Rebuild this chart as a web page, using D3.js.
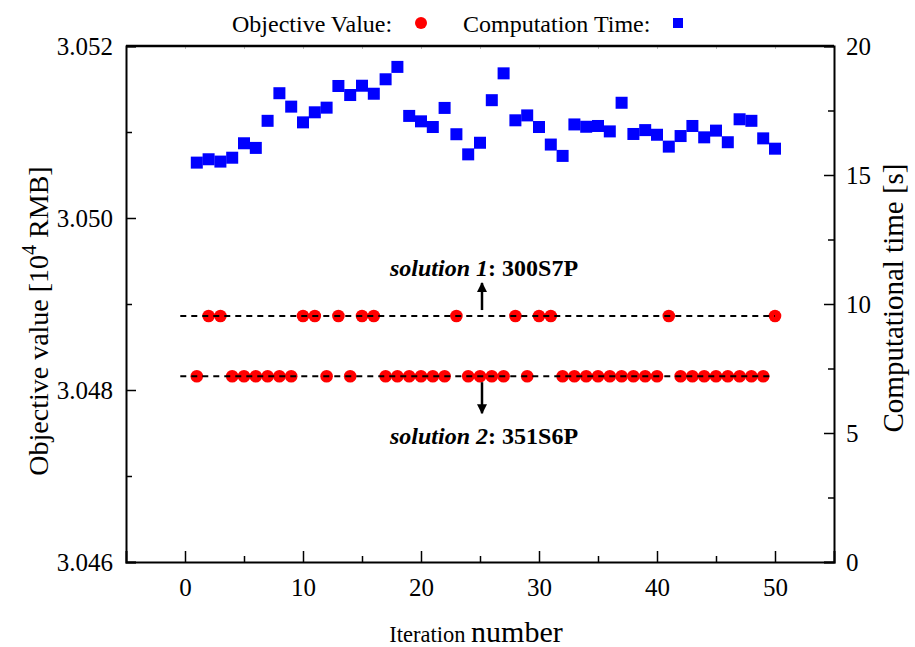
<!DOCTYPE html>
<html lang="en">
<head>
<meta charset="utf-8">
<script src="https://d3js.org/d3.v7.min.js"></script>
<style>
  body { margin: 0; background: #fff; }
  text { font-family: "Liberation Serif", "Times New Roman", serif; }
</style>
</head>
<body>
<div id="chart"></div>
<script>
// iterations and computation time per iteration [s]
var iterations = d3.range(1, 51);
var compTime = [15.48, 15.61, 15.52, 15.67, 16.23, 16.05, 17.10, 18.17, 17.65, 17.04,
                17.43, 17.61, 18.45, 18.10, 18.46, 18.15, 18.71, 19.19, 17.29, 17.08,
                16.86, 17.60, 16.58, 15.80, 16.25, 17.90, 18.94, 17.12, 17.31, 16.86,
                16.18, 15.74, 16.96, 16.87, 16.90, 16.69, 17.80, 16.59, 16.74, 16.56,
                16.10, 16.51, 16.90, 16.46, 16.72, 16.27, 17.16, 17.10, 16.42, 16.02];
// which solution each iteration found (1 = 300S7P, 2 = 351S6P)
var solutionId = [2, 1, 1, 2, 2, 2, 2, 2, 2, 1,
                  1, 2, 1, 2, 1, 1, 2, 2, 2, 2,
                  2, 2, 1, 2, 2, 2, 2, 1, 2, 1,
                  1, 2, 2, 2, 2, 2, 2, 2, 2, 2,
                  1, 2, 2, 2, 2, 2, 2, 2, 2, 1];
var solutionValue = [3.04886, 3.04816];   // objective value [10^4 RMB]
var solutionName = ["300S7P", "351S6P"];

var xTicks = [0, 10, 20, 30, 40, 50];
var yLeftTicks = [3.046, 3.048, 3.050, 3.052];
var yRightTicks = [0, 5, 10, 15, 20];

var width = 915, height = 647;
var margin = {left: 126, right: 81, top: 46, bottom: 85};
var W = width - margin.left - margin.right;
var H = height - margin.top - margin.bottom;

var svg = d3.select("#chart").append("svg")
    .attr("width", width).attr("height", height);
var g = svg.append("g").attr("transform", "translate(" + margin.left + "," + margin.top + ")");

var x = d3.scaleLinear().domain([-5, 55]).range([0, W]);
var yL = d3.scaleLinear().domain([3.046, 3.052]).range([H, 0]);
var yR = d3.scaleLinear().domain([0, 20]).range([H, 0]);

// top faint ticks
g.append("g")
    .call(d3.axisTop(x).tickValues(d3.range(0, 55, 5)).tickSize(-3).tickFormat(""))
    .call(function (a) { a.select(".domain").remove(); a.selectAll("line").attr("stroke", "#bbb"); });

// minor ticks
g.append("g").attr("transform", "translate(0," + H + ")")
    .call(d3.axisBottom(x).tickValues([5, 15, 25, 35, 45]).tickSize(-6).tickFormat(""))
    .call(function (a) { a.select(".domain").remove(); a.selectAll("line").attr("stroke-width", 1.5); });
g.append("g")
    .call(d3.axisLeft(yL).tickValues([3.047, 3.049, 3.051]).tickSize(-6).tickFormat(""))
    .call(function (a) { a.select(".domain").remove(); a.selectAll("line").attr("stroke-width", 1.5); });
g.append("g").attr("transform", "translate(" + W + ",0)")
    .call(d3.axisRight(yR).tickValues([2.5, 7.5, 12.5, 17.5]).tickSize(-6).tickFormat(""))
    .call(function (a) { a.select(".domain").remove(); a.selectAll("line").attr("stroke-width", 1.5); });

// major axes
var xAxis = g.append("g").attr("transform", "translate(0," + H + ")")
    .call(d3.axisBottom(x).tickValues(xTicks).tickSize(-11).tickPadding(15).tickFormat(d3.format("d")));
var yAxisL = g.append("g")
    .call(d3.axisLeft(yL).tickValues(yLeftTicks).tickSize(-10).tickPadding(13).tickFormat(d3.format(".3f")));
var yAxisR = g.append("g").attr("transform", "translate(" + W + ",0)")
    .call(d3.axisRight(yR).tickValues(yRightTicks).tickSize(-10).tickPadding(12).tickFormat(d3.format("d")));
[xAxis, yAxisL, yAxisR].forEach(function (a) {
    a.attr("font-family", null);
    a.select(".domain").attr("stroke-width", 2);
    a.selectAll(".tick line").attr("stroke-width", 1.5);
    a.selectAll("text").style("font-size", "25px").attr("fill", "#000");
});
yAxisL.selectAll("text").attr("dy", "0.35em");
yAxisR.selectAll("text").attr("dy", "0.35em");
xAxis.selectAll("text").attr("dy", "0.75em");

// top frame line
g.append("line").attr("x1", 0).attr("x2", W).attr("y1", 0).attr("y2", 0)
    .attr("stroke", "#000").attr("stroke-width", 2.5);

// computation time squares
var sq = 12;
g.selectAll(".sq").data(compTime).enter().append("rect")
    .attr("x", function (d, i) { return x(iterations[i]) - sq / 2; })
    .attr("y", function (d) { return yR(d) - sq / 2; })
    .attr("width", sq).attr("height", sq)
    .attr("fill", "#0000ff");

// objective value circles
g.selectAll(".dot").data(solutionId).enter().append("circle")
    .attr("cx", function (d, i) { return x(iterations[i]); })
    .attr("cy", function (d) { return yL(solutionValue[d - 1]); })
    .attr("r", 6.3)
    .attr("fill", "#ff0000");

// dashed solution lines (drawn over dots)
solutionValue.forEach(function (v, k) {
    g.append("line")
        .attr("x1", x(-0.4)).attr("x2", x(k == 0 ? 50 : 49.6))
        .attr("y1", yL(v)).attr("y2", yL(v))
        .attr("stroke", "#000").attr("stroke-width", 2)
        .attr("stroke-dasharray", "6,5");
});

// arrows + annotation labels
var defs = svg.append("defs");
defs.append("marker").attr("id", "arr")
    .attr("viewBox", "0 0 10 10").attr("refX", 9).attr("refY", 5)
    .attr("markerWidth", 4).attr("markerHeight", 5).attr("orient", "auto")
    .append("path").attr("d", "M0,0 L10,5 L0,10 z").attr("fill", "#000");

var ax = x(25) + 2;
g.append("line").attr("x1", ax).attr("x2", ax)
    .attr("y1", yL(solutionValue[0]) - 6).attr("y2", yL(solutionValue[0]) - 33)
    .attr("stroke", "#000").attr("stroke-width", 2.5).attr("marker-end", "url(#arr)");
g.append("line").attr("x1", ax).attr("x2", ax)
    .attr("y1", yL(solutionValue[1]) + 6).attr("y2", yL(solutionValue[1]) + 37)
    .attr("stroke", "#000").attr("stroke-width", 2.5).attr("marker-end", "url(#arr)");

function annot(k, yy) {
    var t = g.append("text").attr("x", x(25) - 90).attr("y", yy)
        .style("font-size", "24px").style("font-weight", "bold");
    t.append("tspan").style("font-style", "italic").text("solution " + (k + 1));
    t.append("tspan").text(": " + solutionName[k]);
}
annot(0, yL(solutionValue[0]) - 40);
annot(1, yL(solutionValue[1]) + 68);

// axis titles
svg.append("text")
    .attr("transform", "translate(48," + (margin.top + H / 2 + 17) + ") rotate(-90)")
    .attr("text-anchor", "middle").style("font-size", "28px")
    .html("Objective value [10<tspan dy='-12' font-size='20px'>4</tspan><tspan dy='12'> RMB]</tspan>");
svg.append("text")
    .attr("transform", "translate(903," + (margin.top + H / 2 - 6) + ") rotate(-90)")
    .attr("text-anchor", "middle").style("font-size", "29px")
    .text("Computational time [s]");
var xt = svg.append("text").attr("x", margin.left + x(25) - 4).attr("y", 642)
    .attr("text-anchor", "middle");
xt.append("tspan").style("font-size", "22.5px").text("Iteration ");
xt.append("tspan").style("font-size", "30px").text("number");

// legend
var lg = svg.append("g");
lg.append("text").attr("x", 232).attr("y", 32).style("font-size", "24px").text("Objective Value:");
lg.append("circle").attr("cx", 421).attr("cy", 23).attr("r", 6).attr("fill", "#ff0000");
lg.append("text").attr("x", 463).attr("y", 32).style("font-size", "24px").text("Computation Time:");
lg.append("rect").attr("x", 673).attr("y", 18).attr("width", 10).attr("height", 10).attr("fill", "#0000ff");
</script>
</body>
</html>
